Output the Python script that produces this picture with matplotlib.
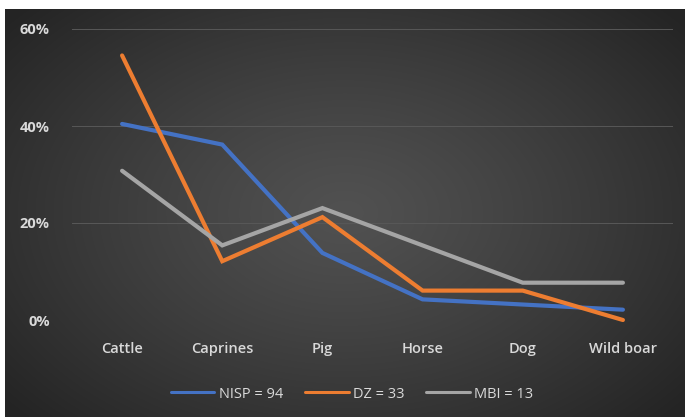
import matplotlib
matplotlib.use("Agg")
import matplotlib.pyplot as plt
import numpy as np

categories = ["Cattle", "Caprines", "Pig", "Horse", "Dog", "Wild boar"]
nisp = [38/94, 34/94, 13/94, 4/94, 3/94, 2/94]
dz = [18/33, 4/33, 7/33, 2/33, 2/33, 0/33]
mbi = [4/13, 2/13, 3/13, 2/13, 1/13, 1/13]
series_labels = ["NISP = 94", "DZ = 33", "MBI = 13"]
yticks = [0, 0.2, 0.4, 0.6]
ytick_labels = ["0%", "20%", "40%", "60%"]

W, H = 685, 417
fig = plt.figure(figsize=(W/100, H/100), dpi=100)
fig.patch.set_facecolor("white")

# background radial gradient
bg = fig.add_axes([5/W, 0, (W-5)/W, (H-9)/H])
bg.set_axis_off()
nx, ny = 340, 204
xx, yy = np.meshgrid(np.linspace(-1, 1, nx), np.linspace(-1, 1, ny))
r = np.sqrt((xx*0.95)**2 + (yy*0.85)**2)
r = np.clip(r / 1.25, 0, 1)
inner, outer = 0x51, 0x24
v = (inner + (outer - inner) * r**1.2) / 255.0
img = np.dstack([v, v, v])
bg.imshow(img, aspect="auto", extent=[0, 1, 0, 1], interpolation="bilinear")
bg.set_xlim(0, 1); bg.set_ylim(0, 1)

ax = fig.add_axes([72/W, (H-320)/H, 601/W, 291/H])
ax.set_facecolor("none")
x = np.arange(len(categories))
colors = ["#4472C4", "#ED7D31", "#A5A5A5"]
for vals, lab, c in zip([nisp, dz, mbi], series_labels, colors):
    ax.plot(x, vals, color=c, lw=3.0, label=lab, solid_capstyle="round",
            solid_joinstyle="miter", clip_on=False)

ax.set_xlim(-0.5, len(categories) - 0.5)
ax.set_ylim(0, 0.6)
ax.set_yticks(yticks)
ax.set_yticklabels(ytick_labels)
ax.set_xticks(x)
ax.set_xticklabels(categories)
ax.grid(axis="y", color="#585858", lw=0.7)
ax.set_axisbelow(True)
for s in ax.spines.values():
    s.set_visible(False)
ax.tick_params(axis="both", length=0, colors="#d9d9d9")
ax.tick_params(axis="y", pad=16)
ax.tick_params(axis="x", pad=16)
for t in ax.get_yticklabels():
    t.set_fontfamily("Open Sans"); t.set_fontweight("bold"); t.set_fontsize(10.5)
for t in ax.get_xticklabels():
    t.set_fontfamily("Open Sans"); t.set_fontweight("semibold"); t.set_fontsize(10.5)

leg = ax.legend(loc="center", bbox_to_anchor=(352/W, (H-394)/H),
                bbox_transform=fig.transFigure, ncol=3, frameon=False,
                handlelength=3.0, handletextpad=0.3, columnspacing=1.5,
                prop={"family": "Open Sans", "size": 10.5})
for t in leg.get_texts():
    t.set_color("#d9d9d9")
for l in leg.get_lines():
    l.set_linewidth(2.2)

fig.savefig("out.png", dpi=100)
